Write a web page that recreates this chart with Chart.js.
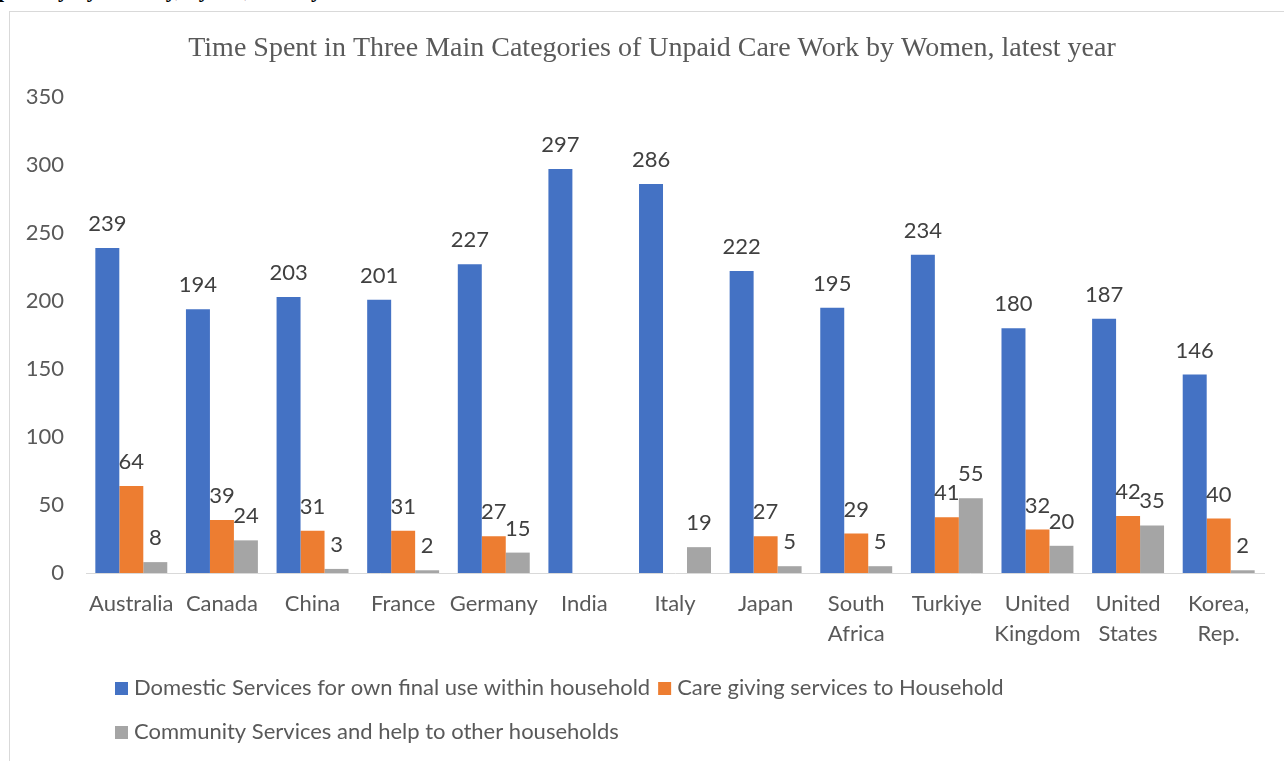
<!DOCTYPE html>
<html>
<head>
<meta charset="utf-8">
<script src="https://cdn.jsdelivr.net/npm/chart.js@4"></script>
<style>
  html, body { margin: 0; padding: 0; background: #fff; overflow: hidden; }
  #wrap { position: relative; width: 1284px; height: 761px; }
  #cut { position: absolute; left: -2px; top: -21px; font: bold 22px "Liberation Serif", serif; line-height: 22px; color: #000; white-space: nowrap; }
  #frame { position: absolute; left: 9px; top: 11px; right: -5px; bottom: -5px; border-left: 1px solid #d9d9d9; border-top: 1px solid #d9d9d9; }
  #chart { position: absolute; left: 0; top: 0; }
</style>
</head>
<body>
<div id="wrap">
  <div id="cut">per day by country, by sex, latest year</div>
  <div id="frame"></div>
  <canvas id="chart" width="1284" height="761"></canvas>
</div>
<script>
// data (minutes per day)
const countries = ['Australia', 'Canada', 'China', 'France', 'Germany', 'India', 'Italy', 'Japan',
    ['South', 'Africa'], 'Turkiye', ['United', 'Kingdom'], ['United', 'States'], ['Korea,', 'Rep.']];
const domestic = [239, 194, 203, 201, 227, 297, 286, 222, 195, 234, 180, 187, 146];
const caregiving = [64, 39, 31, 31, 27, null, null, 27, 29, 41, 32, 42, 40];
const community = [8, 24, 3, 2, 15, null, 19, 5, 5, 55, 20, 35, 2];
const seriesNames = ['Domestic Services for own final use within household',
    'Care giving services to Household',
    'Community Services and help to other households'];
const yTicks = [0, 50, 100, 150, 200, 250, 300, 350];
const chartTitle = 'Time Spent in Three Main Categories of Unpaid Care Work by Women, latest year';

const FONT = 'Lato, "Open Sans", sans-serif';

// value labels above each bar
const barLabels = {
    id: 'barLabels',
    afterDatasetsDraw(chart) {
        const ctx = chart.ctx;
        ctx.save();
        ctx.font = '22px ' + FONT;
        ctx.fillStyle = '#404040';
        ctx.textAlign = 'center';
        ctx.textBaseline = 'middle';
        chart.data.datasets.forEach((ds, i) => {
            chart.getDatasetMeta(i).data.forEach((bar, j) => {
                const v = ds.data[j];
                if (v === null) return;
                ctx.fillText(String(v), bar.x, bar.y - 24);
            });
        });
        ctx.restore();
    }
};

// title + legend drawn like excel does (title centred on the frame, legend left aligned in two rows)
const excelDecor = {
    id: 'excelDecor',
    afterDraw(chart) {
        const ctx = chart.ctx;
        ctx.save();
        ctx.font = '28px "Liberation Serif", serif';
        ctx.fillStyle = '#595959';
        ctx.textAlign = 'center';
        ctx.textBaseline = 'middle';
        ctx.fillText(chartTitle, 652, 49);

        ctx.font = '22px ' + FONT;
        ctx.textAlign = 'left';
        const rows = [[0, 1], [2]];
        const rowY = [688, 732];
        rows.forEach((row, r) => {
            let x = 115;
            row.forEach(i => {
                const ds = chart.data.datasets[i];
                ctx.fillStyle = ds.backgroundColor;
                ctx.fillRect(x, rowY[r] - 6, 13, 13);
                ctx.fillStyle = '#595959';
                ctx.fillText(ds.label, x + 19, rowY[r]);
                x += 19 + ctx.measureText(ds.label).width + 8;
            });
        });
        ctx.restore();
    }
};

new Chart(document.getElementById('chart').getContext('2d'), {
    type: 'bar',
    data: {
        labels: countries,
        datasets: [
            { label: seriesNames[0], data: domestic, backgroundColor: '#4472C4' },
            { label: seriesNames[1], data: caregiving, backgroundColor: '#ED7D31' },
            { label: seriesNames[2], data: community, backgroundColor: '#A5A5A5' }
        ]
    },
    options: {
        responsive: false,
        animation: false,
        devicePixelRatio: 1,
        datasets: {
            bar: { categoryPercentage: 0.794, barPercentage: 1.0 }
        },
        layout: { padding: { left: 0, right: 20, top: 97, bottom: 98 } },
        plugins: {
            legend: { display: false },
            tooltip: { enabled: false },
            title: { display: false }
        },
        scales: {
            y: {
                min: 0,
                max: 350,
                afterBuildTicks: axis => { axis.ticks = yTicks.map(v => ({ value: v })); },
                afterFit: axis => { axis.width = 86; },
                grid: { display: false, drawTicks: false },
                border: { display: false },
                ticks: { color: '#595959', padding: 22, font: { family: FONT, size: 22 } }
            },
            x: {
                afterFit: axis => { axis.height = 90; },
                grid: { display: false, drawTicks: false },
                border: { display: true, color: '#d9d9d9', width: 1 },
                ticks: { color: '#595959', padding: 16, maxRotation: 0, autoSkip: false, font: { family: FONT, size: 22, lineHeight: 1.36 } }
            }
        }
    },
    plugins: [barLabels, excelDecor]
});
</script>
</body>
</html>
